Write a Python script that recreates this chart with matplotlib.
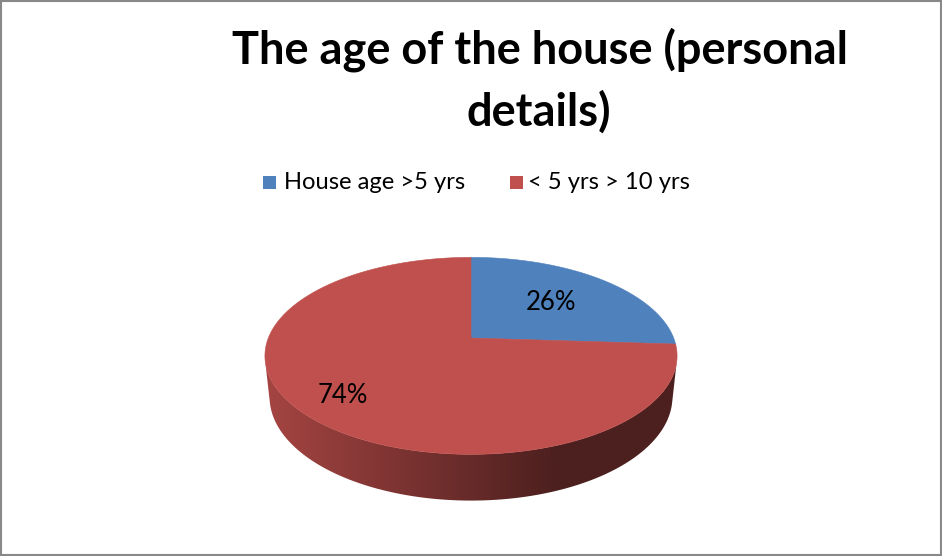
import numpy as np
import matplotlib
matplotlib.use("Agg")
import matplotlib.pyplot as plt
from matplotlib.patches import Polygon, Rectangle

# ---------------- data ----------------
categories = ["House age >5 yrs", "< 5 yrs > 10 yrs"]
values = [26, 74]
value_labels = ["26%", "74%"]
colors = ["#4f81bd", "#c0504d"]
title_lines = ["The age of the house (personal", "details)"]

# ---------------- layout / style ----------------
W, H = 942, 556
FONT = ["Lato", "DejaVu Sans"]
CX, CY = 471.0, 338.0          # screen position of pie centre
FOC = 987.0                    # projection focal length (px)
SIN_A = 0.47                   # tilt of the disc
COS_A = np.sqrt(1 - SIN_A ** 2)
DIST = 4.87                    # camera distance (in radii)
THICK = 0.232                  # disc thickness (in radii)
label_radius = [0.58, 0.80]

fig = plt.figure(figsize=(W / 100, H / 100), dpi=100)
ax = fig.add_axes([0, 0, 1, 1])
ax.set_xlim(0, W)
ax.set_ylim(H, 0)
ax.axis("off")
renderer = fig.canvas.get_renderer()


def proj(x, y, z=0.0):
    u = y * SIN_A + z * COS_A
    w = DIST + y * COS_A - z * SIN_A
    return CX + FOC * x / w, CY - FOC * u / w


def rim(a0, a1, z=0.0, n=200):
    t = np.radians(np.linspace(a0, a1, n))
    return proj(np.cos(t), np.sin(t), z)


# slice angles: start at 12 o'clock, clockwise
vals = np.array(values, dtype=float)
bounds = 90 - np.concatenate([[0], np.cumsum(vals)]) / vals.sum() * 360

# visible part of side wall (silhouette from perspective)
phi_s = np.degrees(np.arcsin(1.0 / (DIST * COS_A)))
vis0, vis1 = 180 + phi_s, 360 - phi_s

rx = FOC / np.sqrt(DIST ** 2 - COS_A ** 2)


def shade(col, n=400):
    base = np.array(matplotlib.colors.to_rgb(col))
    xs = np.linspace(CX - rx - 2, CX + rx + 2, n)
    t = np.clip((xs - (CX - rx)) / (1.4 * rx), 0, 1)
    f = 0.86 - (0.86 - 0.40) * t
    img = base[None, :] * f[:, None]
    return img[None, :, :], xs[0], xs[-1]


# side walls
for i, col in enumerate(colors):
    a_hi, a_lo = bounds[i], bounds[i + 1]   # a_lo < a_hi
    for k in (-360, 0, 360):
        lo, hi = max(a_lo + k, vis0), min(a_hi + k, vis1)
        if hi > lo:
            tx, ty = rim(lo, hi, 0.0)
            bx, by = rim(hi, lo, -THICK)
            verts = np.column_stack([np.concatenate([tx, bx]), np.concatenate([ty, by])])
            poly = Polygon(verts, closed=True, facecolor="none", edgecolor="none")
            ax.add_patch(poly)
            img, x0, x1 = shade(col)
            im = ax.imshow(img, extent=(x0, x1, by.max() + 2, ty.min() - 2),
                           aspect="auto", interpolation="bilinear", zorder=1)
            im.set_clip_path(poly)

# top faces
for i, col in enumerate(colors):
    ax_, ay_ = rim(bounds[i], bounds[i + 1], 0.0)
    cx0, cy0 = proj(0, 0)
    verts = np.column_stack([np.concatenate([[cx0], ax_]), np.concatenate([[cy0], ay_])])
    ax.add_patch(Polygon(verts, closed=True, facecolor=col, edgecolor=col,
                         linewidth=0.4, zorder=2))

# data labels
for i, lab in enumerate(value_labels):
    mid = np.radians((bounds[i] + bounds[i + 1]) / 2)
    lx, ly = proj(label_radius[i] * np.cos(mid), label_radius[i] * np.sin(mid))
    ax.text(lx + (3 if i == 1 else 0), ly, lab, ha="center", va="center", fontsize=18.5,
            family=FONT, color="black", zorder=3)

ax.set_xlim(0, W)
ax.set_ylim(H, 0)


def fit_text(x, y, s, width_px, **kw):
    t = ax.text(x, y, s, fontsize=20, **kw)
    w = t.get_window_extent(renderer=renderer).width
    t.set_fontsize(20 * width_px / w)
    return t


# title
t1 = fit_text(540, 63, title_lines[0], 616, ha="center", va="baseline",
              family=FONT, fontweight="bold", color="black")
ax.text(539, 126, title_lines[1], ha="center", va="baseline",
        fontsize=t1.get_fontsize(), family=FONT, fontweight="bold", color="black")

# legend
leg_x = [263, 510]
for i, (cat, col) in enumerate(zip(categories, colors)):
    ax.add_patch(Rectangle((leg_x[i], 176), 13, 13, facecolor=col, edgecolor="none"))
    if i == 0:
        lt = fit_text(leg_x[i] + 21, 189, cat, 181, ha="left", va="baseline",
                      family=FONT, color="black")
        lfs = lt.get_fontsize()
    else:
        ax.text(leg_x[i] + 18, 189, cat, ha="left", va="baseline", fontsize=lfs,
                family=FONT, color="black")

# chart border
ax.add_patch(Rectangle((1, 1), W - 2.5, H - 2.5, facecolor="none",
                       edgecolor="#888888", linewidth=1.5, zorder=5))

fig.savefig("out.png", dpi=100, facecolor="white")
